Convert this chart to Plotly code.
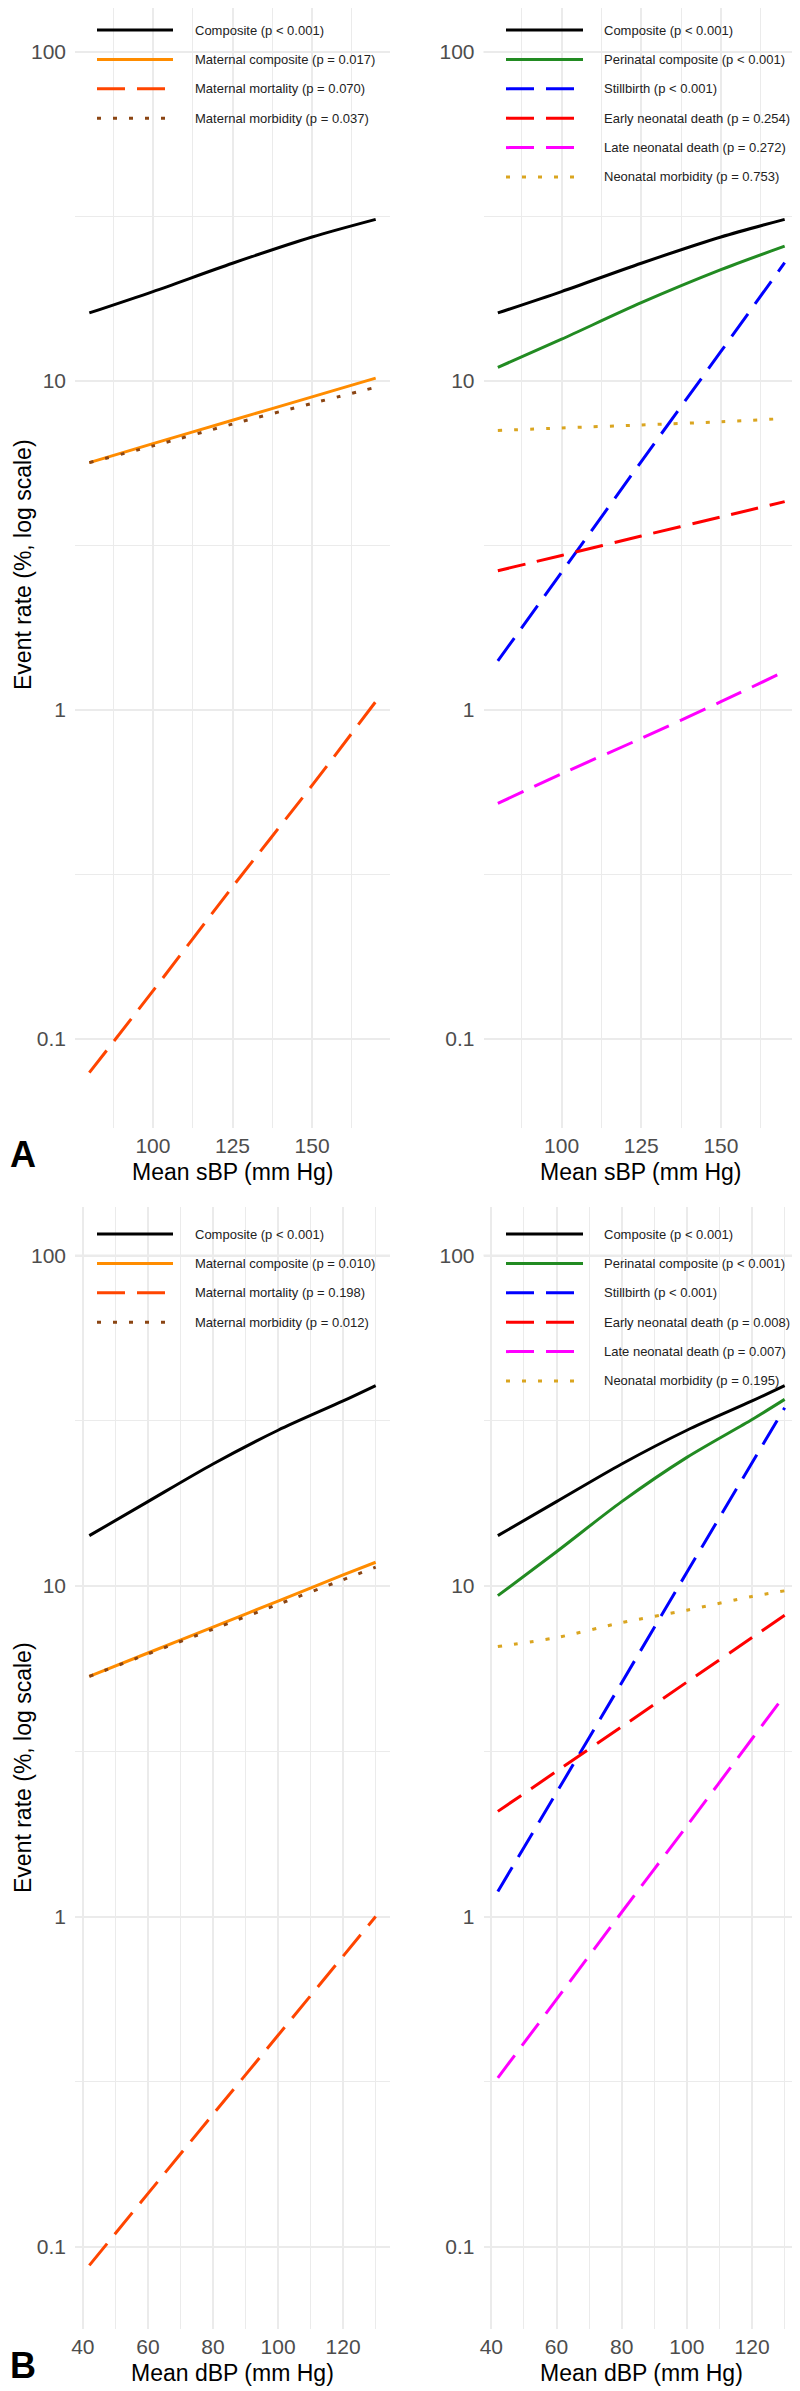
import plotly.graph_objects as go
from plotly.subplots import make_subplots

# The page is shown with the browser's default 8px body margin, so the figure is
# sized to fit the 800x2391 window and positions below are given in window pixels.
WIN_W, WIN_H = 800, 2391
OFF = 8
W, H = WIN_W - OFF, WIN_H - OFF

# ---------------- data ----------------
# Panel A: mean systolic BP (mm Hg)
sbp = [80, 100, 125, 150, 170]
a_composite = [16.1, 18.7, 22.8, 27.4, 31.0]
a_mat_composite = [5.65, 6.45, 7.6, 8.95, 10.2]
a_mat_mortality = [0.079, 0.14, 0.29, 0.59, 1.06]
a_mat_morbidity = [5.65, 6.35, 7.4, 8.55, 9.57]
a_peri_composite = [11.0, 13.4, 17.3, 21.8, 25.7]
a_stillbirth = [1.41, 2.62, 5.69, 12.3, 22.9]
a_early_nnd = [2.65, 2.95, 3.38, 3.86, 4.30]
a_late_nnd = [0.52, 0.64, 0.82, 1.06, 1.31]
a_neo_morbidity = [7.07, 7.2, 7.35, 7.52, 7.69]

# Panel B: mean diastolic BP (mm Hg)
dbp = [42, 60, 80, 100, 120, 130]
b_composite = [14.2, 18.0, 23.4, 29.6, 36.3, 40.4]
b_mat_composite = [5.33, 6.27, 7.51, 9.0, 10.8, 11.8]
b_mat_mortality = [0.088, 0.145, 0.252, 0.437, 0.759, 1.0]
b_mat_morbidity = [5.33, 6.23, 7.4, 8.8, 10.45, 11.4]
b_peri_composite = [9.35, 12.7, 18.0, 24.5, 31.9, 36.7]
b_stillbirth = [1.19, 2.37, 5.1, 11.0, 23.6, 34.6]
b_early_nnd = [2.08, 2.75, 3.75, 5.12, 6.98, 8.16]
b_late_nnd = [0.325, 0.561, 1.03, 1.88, 3.45, 4.67]
b_neo_morbidity = [6.56, 6.98, 7.75, 8.45, 9.3, 9.67]

maternal_names = ["Composite", "Maternal composite", "Maternal mortality", "Maternal morbidity"]
perinatal_names = ["Composite", "Perinatal composite", "Stillbirth", "Early neonatal death",
                   "Late neonatal death", "Neonatal morbidity"]
a_p_maternal = ["< 0.001", "= 0.017", "= 0.070", "= 0.037"]
a_p_perinatal = ["< 0.001", "< 0.001", "< 0.001", "= 0.254", "= 0.272", "= 0.753"]
b_p_maternal = ["< 0.001", "= 0.010", "= 0.198", "= 0.012"]
b_p_perinatal = ["< 0.001", "< 0.001", "< 0.001", "= 0.008", "= 0.007", "= 0.195"]

sbp_ticks = [100, 125, 150]
sbp_minor = [87.5, 112.5, 137.5, 162.5]
dbp_ticks = [40, 60, 80, 100, 120]
dbp_minor = [50, 70, 90, 110, 130]
y_ticks = [0.1, 1, 10, 100]
y_ticktext = ["0.1", "1", "10", "100"]
y_minor = [10 ** -0.5, 10 ** 0.5, 10 ** 1.5]

# ---------------- styles ----------------
LONGDASH = "28px,12px"
DOTTED = "4px,12px"
STY = {
    "Composite": ("#000000", "solid"),
    "Maternal composite": ("#FF8C00", "solid"),
    "Maternal mortality": ("#FF4500", LONGDASH),
    "Maternal morbidity": ("#8B4513", DOTTED),
    "Perinatal composite": ("#228B22", "solid"),
    "Stillbirth": ("#0000FF", LONGDASH),
    "Early neonatal death": ("#FF0000", LONGDASH),
    "Late neonatal death": ("#FF00FF", LONGDASH),
    "Neonatal morbidity": ("#DAA520", DOTTED),
}
FONT = "Liberation Sans, Arial, sans-serif"
GRID = "#EBEBEB"
LW = 3


def px(x):
    return (x - OFF) / W


def py(y):
    return 1 - (y - OFF) / H


fig = make_subplots(rows=2, cols=2)

panels = [
    (1, 1, sbp, maternal_names, [a_composite, a_mat_composite, a_mat_mortality, a_mat_morbidity]),
    (1, 2, sbp, perinatal_names, [a_composite, a_peri_composite, a_stillbirth, a_early_nnd,
                                  a_late_nnd, a_neo_morbidity]),
    (2, 1, dbp, maternal_names, [b_composite, b_mat_composite, b_mat_mortality, b_mat_morbidity]),
    (2, 2, dbp, perinatal_names, [b_composite, b_peri_composite, b_stillbirth, b_early_nnd,
                                  b_late_nnd, b_neo_morbidity]),
]
for r, c, xs, names, series in panels:
    for nm, ys in zip(names, series):
        col, dash = STY[nm]
        fig.add_trace(go.Scatter(x=xs, y=ys, mode="lines", name=nm, showlegend=False,
                                 line=dict(color=col, dash=dash, width=LW, shape="spline",
                                           smoothing=0.8),
                                 hoverinfo="skip"), row=r, col=c)

# ---------------- geometry (window pixels) ----------------
XL = (75, 390)
XR = (483.5, 799)
YA = (8, 1128)
YB = (1207, 2329)


def xdom(a):
    return [px(a[0]), px(a[1])]


def ydom(a):
    return [py(a[1]), min(1.0, py(a[0]))]


tickfont = dict(family=FONT, size=21, color="#4D4D4D")


def xax(domain, rng, ticks, minor):
    return dict(domain=domain, range=rng, tickvals=ticks, ticktext=[str(t) for t in ticks],
                showgrid=True, gridcolor=GRID, gridwidth=1.8, zeroline=False, showline=False,
                ticks="", tickfont=tickfont, ticklabelstandoff=3, automargin=False,
                minor=dict(tickvals=minor, showgrid=True, gridcolor=GRID, gridwidth=1.2, ticks=""))


def yax(domain, rng):
    return dict(domain=domain, type="log", range=rng, tickvals=y_ticks, ticktext=y_ticktext,
                showgrid=True, gridcolor=GRID, gridwidth=1.8, zeroline=False, showline=False,
                ticks="", tickfont=tickfont, ticklabelstandoff=8, automargin=False,
                minor=dict(tickvals=y_minor, showgrid=True, gridcolor=GRID, gridwidth=1.2, ticks=""))


# 100 % gridline sits at y=52 (A) / 1255.5 (B); ~329-330 px per decade
yA_rng = [2 - (YA[1] - 52) / 329.0, 2 + (52 - YA[0]) / 329.0]
yB_rng = [2 - (YB[1] - 1255.5) / 330.5, 2 + (1255.5 - YB[0]) / 330.5]
fig.update_layout(
    xaxis=xax(xdom(XL), [75.5, 174.5], sbp_ticks, sbp_minor),
    xaxis2=xax(xdom(XR), [75.5, 174.5], sbp_ticks, sbp_minor),
    xaxis3=xax(xdom(XL), [37.6, 134.4], dbp_ticks, dbp_minor),
    xaxis4=xax(xdom(XR), [37.6, 134.4], dbp_ticks, dbp_minor),
    yaxis=yax(ydom(YA), yA_rng),
    yaxis2=yax(ydom(YA), yA_rng),
    yaxis3=yax(ydom(YB), yB_rng),
    yaxis4=yax(ydom(YB), yB_rng),
)

shapes = []
annotations = []

# ---------------- manual legends ----------------
ROW = 29.4
legends = [
    (97, 173, 193, 30, maternal_names, a_p_maternal, "x", "y", (90, 381, 20, 133)),
    (506, 583, 602, 30, perinatal_names, a_p_perinatal, "x2", "y2", (498, 796, 20, 190)),
    (97, 173, 193, 1234, maternal_names, b_p_maternal, "x3", "y3", (90, 381, 1224, 1337)),
    (506, 583, 602, 1234, perinatal_names, b_p_perinatal, "x4", "y4", (498, 796, 1224, 1395)),
]
for x0, x1, xt, y0, names, pvals, xr, yr, box in legends:
    bx0, bx1, by0, by1 = box
    shapes.append(dict(type="rect", xref="paper", yref="paper", x0=px(bx0), x1=px(bx1),
                       y0=py(by1), y1=py(by0), fillcolor="white", line=dict(width=0),
                       layer="below"))
    # horizontal 100% gridline shows through the legend box
    shapes.append(dict(type="line", xref=xr + " domain", yref=yr, x0=0, x1=1, y0=100, y1=100,
                       line=dict(color=GRID, width=1.8), layer="below"))
    for i, (nm, p) in enumerate(zip(names, pvals)):
        yy = y0 + i * ROW
        col, dash = STY[nm]
        shapes.append(dict(type="line", xref="paper", yref="paper", x0=px(x0), x1=px(x1),
                           y0=py(yy), y1=py(yy), line=dict(color=col, dash=dash, width=LW)))
        annotations.append(dict(xref="paper", yref="paper", x=px(xt), y=py(yy),
                                text=f"{nm} (p {p})", showarrow=False, xanchor="left",
                                yanchor="middle", font=dict(family=FONT, size=13, color="#222222")))

# ---------------- axis titles / panel letters ----------------
title_font = dict(family=FONT, size=23, color="#000000")
for xc, yc, label in [(232.5, 1171.5, "Mean sBP (mm Hg)"), (641, 1171.5, "Mean sBP (mm Hg)"),
                      (232.5, 2373, "Mean dBP (mm Hg)"), (641, 2373, "Mean dBP (mm Hg)")]:
    annotations.append(dict(xref="paper", yref="paper", x=px(xc), y=py(yc), text=label,
                            showarrow=False, xanchor="center", yanchor="middle", font=title_font))
for yc in [565, 1768]:
    annotations.append(dict(xref="paper", yref="paper", x=px(8), y=py(yc),
                            text="Event rate (%, log scale)", textangle=-90, showarrow=False,
                            xanchor="left", yanchor="middle", font=title_font))
for yc, letter in [(1154, "A"), (2365, "B")]:
    annotations.append(dict(xref="paper", yref="paper", x=px(8), y=py(yc),
                            text=f"<b>{letter}</b>", showarrow=False, xanchor="left",
                            yanchor="middle", font=dict(family=FONT, size=36, color="#000000")))

fig.update_layout(
    width=W, height=H,
    margin=dict(l=0, r=0, t=0, b=0),
    paper_bgcolor="white", plot_bgcolor="white",
    showlegend=False,
    shapes=shapes, annotations=annotations,
    font=dict(family=FONT),
)

fig.write_html("out.html")
